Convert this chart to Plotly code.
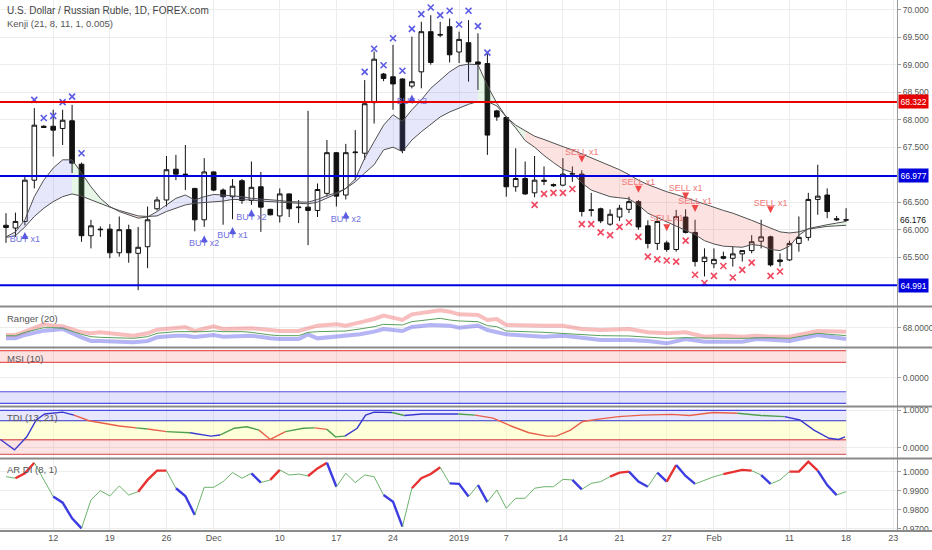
import plotly.graph_objects as go
from plotly.subplots import make_subplots

# ---- price data (daily bars, FOREX.com incl. Sunday bars), bar index 0..89
bars = list(range(90))
opens = [66.08, 66.03, 66.15, 66.90, 67.88, 67.88, 67.84, 67.98, 67.19, 65.89,
         66.01, 66.01, 65.58, 66.00, 65.57, 65.69, 66.38, 66.54, 67.10, 67.01,
         66.75, 66.18, 67.05, 66.72, 66.60, 66.89, 66.53, 66.78, 66.37, 66.25,
         66.65, 66.40, 66.41, 66.35, 66.66, 67.40, 66.63, 67.40, 67.39, 68.31,
         68.83, 68.78, 68.74, 68.61, 68.87, 69.60, 69.55, 69.69, 69.23, 69.40,
         69.05, 69.02, 68.16, 68.04, 66.78, 66.93, 66.67, 66.90, 66.82, 66.81,
         67.01, 67.01, 66.35, 66.38, 66.10, 66.23, 66.37, 66.51, 66.07, 65.75,
         65.76, 65.64, 66.23, 65.95, 65.42, 65.38, 65.51, 65.48, 65.56, 65.62,
         65.79, 65.87, 65.45, 65.45, 65.75, 65.86, 66.55, 66.63, 66.20, 66.18]
highs = [66.30, 66.31, 66.96, 68.21, 67.90, 68.18, 68.18, 68.27, 67.22, 66.18,
         66.06, 66.10, 66.24, 66.09, 66.05, 66.42, 66.60, 67.34, 67.36, 67.54,
         66.76, 67.30, 67.06, 66.75, 66.92, 66.92, 67.24, 67.05, 66.38, 66.75,
         66.66, 66.54, 68.16, 66.84, 67.63, 67.41, 67.56, 67.81, 68.72, 69.24,
         68.85, 69.36, 68.75, 69.51, 69.78, 69.90, 69.78, 69.84, 69.60, 69.81,
         69.57, 69.21, 68.18, 68.06, 67.48, 67.24, 67.34, 67.15, 66.84, 67.30,
         67.15, 67.08, 66.67, 66.40, 66.37, 66.45, 66.60, 66.54, 66.17, 66.24,
         65.80, 66.36, 66.37, 66.18, 65.66, 65.66, 65.60, 65.70, 65.63, 65.90,
         66.18, 65.89, 65.57, 65.80, 66.24, 66.67, 67.18, 66.75, 66.25, 66.39]
lows = [65.76, 65.87, 66.08, 66.75, 67.85, 67.33, 67.54, 67.03, 65.78, 65.66,
        65.87, 65.48, 65.51, 65.40, 64.90, 65.30, 66.35, 66.42, 66.90, 66.72,
        65.97, 66.05, 66.70, 66.09, 66.19, 66.47, 66.45, 65.96, 66.26, 66.13,
        66.23, 66.12, 65.72, 66.23, 66.60, 66.42, 66.55, 66.90, 67.27, 67.93,
        68.70, 68.18, 67.39, 68.57, 68.57, 69.00, 69.50, 69.04, 69.03, 68.69,
        68.54, 67.36, 67.98, 66.60, 66.69, 66.63, 66.59, 66.81, 66.78, 66.79,
        66.87, 66.24, 66.24, 66.12, 66.07, 66.16, 66.30, 66.00, 65.66, 65.63,
        65.60, 65.60, 65.93, 65.33, 65.15, 65.30, 65.46, 65.33, 65.42, 65.57,
        65.66, 65.33, 65.33, 65.43, 65.60, 65.80, 66.27, 66.21, 66.16, 66.15]
closes = [66.04, 66.15, 66.90, 67.90, 67.86, 67.81, 67.99, 67.21, 65.89, 66.07,
          66.00, 65.58, 66.00, 65.58, 65.68, 66.18, 66.54, 67.09, 67.01, 67.00,
          66.18, 67.05, 66.72, 66.60, 66.79, 66.53, 66.77, 66.41, 66.27, 66.65,
          66.38, 66.41, 66.35, 66.73, 67.40, 66.61, 67.40, 67.41, 68.29, 69.10,
          68.75, 68.65, 67.44, 68.69, 69.60, 69.04, 69.54, 69.18, 69.46, 69.05,
          69.01, 67.72, 68.05, 66.78, 66.93, 66.65, 66.90, 66.88, 66.80, 67.01,
          67.02, 66.33, 66.36, 66.16, 66.28, 66.39, 66.51, 66.05, 65.75, 66.15,
          65.64, 66.24, 65.95, 65.42, 65.50, 65.46, 65.48, 65.56, 65.62, 65.78,
          65.87, 65.36, 65.42, 65.75, 65.86, 66.55, 66.61, 66.33, 66.18, 66.176]

# Kenji cloud lines (read per bar)
kenji_fast = [65.87, 65.96, 66.18, 66.60, 66.90, 67.12, 67.27, 67.27, 67.03, 66.78,
              66.57, 66.42, 66.33, 66.27, 66.21, 66.23, 66.33, 66.45, 66.57, 66.63,
              66.54, 66.60, 66.64, 66.63, 66.62, 66.60, 66.57, 66.56, 66.54, 66.53,
              66.51, 66.50, 66.50, 66.55, 66.62, 66.67, 66.75, 66.92, 67.30, 67.60,
              67.90, 68.09, 67.97, 68.18, 68.36, 68.57, 68.72, 68.87, 68.98, 69.01,
              69.00, 68.62, 68.30, 68.05, 67.85, 67.62, 67.50, 67.35, 67.22, 67.10,
              67.04, 66.85, 66.72, 66.66, 66.60, 66.58, 66.56, 66.45, 66.30, 66.22,
              66.14, 66.06, 65.99, 65.91, 65.80, 65.74, 65.70, 65.69, 65.68, 65.73,
              65.71, 65.64, 65.62, 65.70, 65.90, 66.02, 66.06, 66.09, 66.12, 66.15]
kenji_slow = [65.86, 65.89, 66.05, 66.24, 66.39, 66.51, 66.60, 66.65, 66.61, 66.54,
              66.48, 66.41, 66.35, 66.30, 66.25, 66.24, 66.25, 66.33, 66.39, 66.45,
              66.48, 66.49, 66.50, 66.52, 66.55, 66.55, 66.54, 66.52, 66.51, 66.50,
              66.49, 66.48, 66.47, 66.50, 66.57, 66.65, 66.75, 66.87, 67.03, 67.18,
              67.45, 67.50, 67.42, 67.63, 67.78, 67.92, 68.05, 68.14, 68.21, 68.28,
              68.33, 68.33, 68.25, 68.05, 67.90, 67.80, 67.70, 67.64, 67.57, 67.51,
              67.45, 67.38, 67.30, 67.23, 67.16, 67.09, 67.00, 66.90, 66.82, 66.75,
              66.69, 66.64, 66.58, 66.52, 66.46, 66.40, 66.35, 66.30, 66.24, 66.17,
              66.10, 66.03, 65.96, 65.94, 65.96, 66.01, 66.04, 66.06, 66.07, 66.08]
cloud_start = [0, 7, 11, 15, 50, 55, 84]
cloud_end = [7, 11, 15, 50, 55, 84, 89]
cloud_state = ["up", "fade", "down", "up", "fade", "down", "fade"]

# signal markers
top_x_bars = [3, 4, 5, 6, 7, 8, 38, 39, 40, 41, 42, 43, 44, 45, 46, 47, 48, 49, 50, 51]
top_x_price = [68.36, 68.03, 68.07, 68.32, 68.42, 67.39, 68.87, 69.29, 68.99, 69.48,
               68.89, 69.65, 69.92, 70.04, 69.90, 69.98, 69.73, 69.98, 69.70, 69.22]
bot_x_bars = [56, 57, 58, 59, 60, 61, 62, 63, 64, 65, 66, 67, 68, 69, 70, 71, 72,
              73, 74, 75, 76, 77, 78, 79, 81, 82]
bot_x_price = [66.45, 66.65, 66.67, 66.67, 66.74, 66.10, 66.10, 65.95, 65.90, 66.05,
               66.13, 65.87, 65.51, 65.46, 65.44, 65.42, 65.80, 65.18, 65.03, 65.16,
               65.34, 65.13, 65.27, 65.40, 65.16, 65.24]
buy_bars = [2, 21, 24, 26, 36, 43]
buy_text = ["BUY x1", "BUY x2", "BUY x1", "BUY x2", "BUY x2", "BUY x2"]
buy_text_price = [65.81, 65.75, 65.89, 66.22, 66.18, 68.33]
buy_arrow_price = [65.96, 65.90, 66.05, 66.37, 66.33, 68.46]
sell_bars = [61, 67, 70, 72, 73, 81]
sell_text = ["SELL x1"] * 6
sell_text_price = [67.40, 66.85, 66.19, 66.74, 66.51, 66.48]
sell_arrow_price = [67.22, 66.67, 65.97, 66.55, 66.32, 66.30]

red_level = 68.322
blue_levels = [66.977, 64.991]
last_price = 66.176

# Ranger (20)
ranger_bars = [0, 1, 2, 4, 5, 6, 8, 9, 10, 12, 13.5, 15, 16, 18, 19, 20, 21, 22, 23, 25,
               26, 28, 29, 31, 32, 33, 35, 36, 37.5, 39, 40, 42, 43, 45, 46, 47, 48, 50,
               51, 52, 53, 57, 59, 61, 63, 66, 68, 70, 72, 74, 76, 78, 79.5, 81, 83, 86, 89]
ranger_upper = [66.18, 66.18, 67.01, 68.84, 68.51, 68.34, 66.84, 66.59, 66.84, 66.34,
                66.01, 66.59, 67.51, 67.93, 68.18, 67.18, 67.68, 68.34, 67.68, 67.68,
                67.84, 67.43, 67.18, 67.18, 67.84, 68.51, 68.84, 68.51, 69.34, 70.18,
                71.01, 69.93, 71.34, 71.84, 72.34, 72.01, 71.34, 71.18, 69.93, 70.18,
                68.68, 68.51, 68.51, 67.68, 67.43, 67.68, 66.84, 66.59, 66.84, 65.76,
                66.01, 65.76, 66.01, 65.76, 65.76, 67.18, 67.01]
ranger_mid = [66.01, 66.01, 66.84, 68.01, 68.01, 67.84, 66.34, 65.76, 65.59, 65.34,
              65.34, 65.76, 66.59, 67.01, 67.01, 66.84, 67.01, 67.18, 67.01, 67.01,
              66.84, 66.18, 66.01, 66.01, 66.84, 67.01, 67.01, 67.18, 67.68, 68.26,
              68.84, 68.68, 69.51, 70.18, 70.34, 69.93, 69.68, 69.51, 68.51, 68.26,
              67.18, 66.84, 66.51, 66.34, 66.01, 65.93, 65.68, 65.34, 65.51, 65.34,
              65.34, 65.34, 65.51, 65.51, 65.34, 66.59, 66.01]
ranger_lower = [65.34, 65.34, 66.18, 67.26, 67.43, 67.68, 65.59, 64.68, 64.68, 64.51,
                64.34, 64.68, 65.59, 66.01, 66.01, 65.68, 66.01, 66.18, 65.76, 65.76,
                66.01, 65.34, 65.18, 65.18, 66.34, 65.34, 65.76, 66.18, 66.34, 67.01,
                67.68, 67.18, 68.18, 68.68, 68.68, 68.51, 68.01, 68.51, 67.43, 67.01,
                66.34, 65.76, 66.01, 65.51, 64.93, 64.93, 64.68, 64.09, 65.18, 64.51,
                64.51, 64.51, 65.18, 64.93, 64.68, 66.18, 65.18]

# MSI (10) zones
msi_upper_zone = [0.57, 1.0]
msi_lower_zone = [-0.95, -0.52]

# TDI (13, 21)
tdi_levels = [1.0, 0.72, 0.21, -0.18]
tdi_bars = [-0.6, 0.9, 2.2, 3.2, 4.1, 6, 7.2, 8.8, 12, 13.8, 15, 17, 19.5, 21.7, 22.7,
            24.2, 25.5, 26.8, 28, 29.6, 31.5, 32.7, 34, 34.9, 35.9, 37.2, 38.1, 39,
            40.9, 42.2, 44.1, 47.9, 49.7, 51.6, 53.5, 55.4, 57.3, 58.3, 59.8, 61.1,
            63, 64.9, 67.4, 70.5, 72.4, 74.9, 77.5, 80, 82.5, 84.1, 85.6, 87.2, 88.2, 88.9]
tdi_values = [0.22, -0.06, 0.29, 0.74, 0.90, 0.95, 0.87, 0.72, 0.58, 0.53, 0.50, 0.43,
              0.40, 0.31, 0.34, 0.52, 0.56, 0.47, 0.22, 0.43, 0.52, 0.53, 0.49, 0.29,
              0.31, 0.52, 0.87, 0.95, 0.94, 0.86, 0.90, 0.90, 0.87, 0.79, 0.58, 0.40,
              0.31, 0.31, 0.47, 0.70, 0.77, 0.83, 0.87, 0.89, 0.86, 0.94, 0.92, 0.86,
              0.83, 0.74, 0.47, 0.25, 0.22, 0.29]
tdi_state = ("b b b b b b r r r g r g b b g g g r r g g r g g b b b b g b b g "
             "r r r r r r r r r r r r r r g g b b b b b").split()

# AR DI (8, 1)
ardi = [0.9975, 0.9967, 0.9993, 1.0049, 0.9960, 0.9870, 0.9838, 0.9755, 0.9702, 0.9852,
        0.9901, 0.9873, 0.9926, 0.9878, 0.9896, 0.9958, 1.0007, 1.0007, 0.9914, 0.9873,
        0.9773, 0.9919, 0.9919, 0.9949, 0.9997, 0.9967, 0.9993, 0.9944, 0.9958, 1.0011,
        0.9984, 0.9989, 0.9979, 1.0019, 1.0049, 0.9922, 0.9993, 0.9944, 0.9984, 0.9975,
        0.9878, 0.9843, 0.9711, 0.9914, 0.9967, 0.9989, 1.0025, 0.9940, 0.9937, 0.9870,
        0.9931, 0.9841, 0.9905, 0.9808, 0.9861, 0.9861, 0.9914, 0.9922, 0.9922, 0.9961,
        0.9958, 0.9908, 0.9940, 0.9949, 0.9976, 0.9997, 1.0002, 0.9949, 0.9922, 0.9997,
        0.9949, 1.0037, 0.9979, 0.9937, 0.9958, 0.9975, 0.9989, 1.0002, 1.0011, 1.0007,
        0.9984, 0.9937, 0.9958, 1.0002, 1.0002, 1.0055, 1.0007, 0.9931, 0.9878, 0.9896]
ardi_state = ("g r r g g b b b g g g g g g r r r g b b g g g g g g b g r g g g r r b "
              "g g g g g b b g r r r g b b g b g g g g g g g g g b g g g r r b b g b "
              "r b b g g g r r r g b g g r r r b b g").split()

week_ticks = [5, 11, 17, 22, 29, 35, 41, 48, 53, 59, 65, 70, 75, 83, 89, 94]
week_labels = ["12", "19", "26", "Dec", "10", "17", "24", "2019", "7", "14", "21",
               "27", "Feb", "11", "18", "23"]
# 65.000 and 67.000 sit under the level boxes, so the axis skips them
price_ticks = [65.5, 66.0, 66.5, 67.5, 68.0, 68.5, 69.0, 69.5, 70.0]

# ---- styles
FONT = "Liberation Sans"
GRID = "#ececec"
CLOUD_FILL = {"up": "rgba(110,110,235,0.17)", "fade": "rgba(110,210,110,0.17)",
              "down": "rgba(245,110,110,0.2)"}
TDI_COL = {"b": "#3838d0", "r": "#e8604a", "g": "#4ea04e"}
ARDI_COL = {"b": "#3c3ce0", "r": "#e83232", "g": "#5aaa5a"}
ARDI_W = {"b": 2.4, "r": 2.4, "g": 0.9}
XR = [-0.636, 94.39]
XD = [0, 0.9624]
DOMAINS = [(0.4436, 1.0), (0.3691, 0.4418), (0.2618, 0.3673), (0.1673, 0.2600), (0.0345, 0.1655)]
RANGES = [(64.612, 70.176), (63.175, 73.175), (-1.048, 1.1), (-0.276, 1.088), (0.96878, 1.00688)]

fig = make_subplots(rows=5, cols=1, shared_xaxes=True, vertical_spacing=0)


def line(x, y, color, width, row, **kw):
    fig.add_trace(go.Scatter(x=x, y=y, mode="lines", line=dict(color=color, width=width),
                             hoverinfo="skip", showlegend=False, **kw), row=row, col=1)


def runs(xs, ys, states, colors, widths, row):
    start = 0
    for i in range(1, len(states) + 1):
        if i == len(states) or states[i] != states[start]:
            s = states[start]
            line(xs[start:i + 1], ys[start:i + 1], colors[s], widths[s], row)
            start = i


# Kenji cloud
for a, b, st in zip(cloud_start, cloud_end, cloud_state):
    xs = bars[a:b + 1]
    line(xs, kenji_slow[a:b + 1], "rgba(0,0,0,0)", 0, 1)
    line(xs, kenji_fast[a:b + 1], "rgba(0,0,0,0)", 0, 1, fill="tonexty",
         fillcolor=CLOUD_FILL[st])
line(bars, kenji_slow, "#505050", 1, 1)
line(bars, kenji_fast, "#505050", 1, 1)

# signal texts (behind candles)
fig.add_trace(go.Scatter(x=buy_bars, y=buy_text_price, mode="text", text=buy_text,
                         textfont=dict(color="#7070e0", size=9, family=FONT),
                         hoverinfo="skip", showlegend=False), row=1, col=1)
fig.add_trace(go.Scatter(x=sell_bars, y=sell_text_price, mode="text", text=sell_text,
                         textfont=dict(color="#f07878", size=9, family=FONT),
                         hoverinfo="skip", showlegend=False), row=1, col=1)

fig.add_trace(go.Candlestick(
    x=bars, open=opens, high=highs, low=lows, close=closes,
    increasing=dict(line=dict(color="#111", width=1), fillcolor="white"),
    decreasing=dict(line=dict(color="#111", width=1), fillcolor="#111"),
    whiskerwidth=0, hoverinfo="skip", showlegend=False), row=1, col=1)

fig.add_trace(go.Scatter(x=buy_bars, y=buy_arrow_price, mode="markers",
                         marker=dict(symbol="arrow-up", size=7, color="#5a5ae0"),
                         hoverinfo="skip", showlegend=False), row=1, col=1)
fig.add_trace(go.Scatter(x=sell_bars, y=sell_arrow_price, mode="markers",
                         marker=dict(symbol="arrow-down", size=7, color="#f04848"),
                         hoverinfo="skip", showlegend=False), row=1, col=1)
fig.add_trace(go.Scatter(x=top_x_bars, y=top_x_price, mode="markers",
                         marker=dict(symbol="x-thin", size=6, line=dict(color="#5a5ae6", width=1.6)),
                         hoverinfo="skip", showlegend=False), row=1, col=1)
fig.add_trace(go.Scatter(x=bot_x_bars, y=bot_x_price, mode="markers",
                         marker=dict(symbol="x-thin", size=6, line=dict(color="#f04860", width=1.6)),
                         hoverinfo="skip", showlegend=False), row=1, col=1)

fig.add_hline(y=red_level, line=dict(color="#e60000", width=2), row=1, col=1)
for lv in blue_levels:
    fig.add_hline(y=lv, line=dict(color="#0000dd", width=2), row=1, col=1)

# Ranger
line(ranger_bars, ranger_upper, "rgba(240,110,110,0.45)", 4, 2)
line(ranger_bars, ranger_lower, "rgba(90,90,235,0.45)", 4, 2)
line(ranger_bars, ranger_mid, "#5aa05a", 1, 2)

# MSI zones
band_x = [-1, 89]
for zone, fc, lc in [(msi_upper_zone, "rgba(245,120,120,0.22)", "#e85a5a"),
                     (msi_lower_zone, "rgba(110,110,240,0.2)", "#5050e0")]:
    line(band_x, [zone[0]] * 2, lc, 1.2, 3)
    line(band_x, [zone[1]] * 2, lc, 1.2, 3, fill="tonexty", fillcolor=fc)

# TDI zones + line
line(band_x, [tdi_levels[1]] * 2, "#4a4ae0", 1.5, 4)
line(band_x, [tdi_levels[0]] * 2, "#4a4ae0", 1.2, 4, fill="tonexty",
     fillcolor="rgba(120,120,245,0.18)")
line(band_x, [tdi_levels[2]] * 2, "#e06a6a", 1.5, 4)
line(band_x, [tdi_levels[1]] * 2, "rgba(0,0,0,0)", 0, 4, fill="tonexty",
     fillcolor="rgba(255,255,170,0.45)")
line(band_x, [tdi_levels[3]] * 2, "#e06a6a", 1.2, 4)
line(band_x, [tdi_levels[2]] * 2, "rgba(0,0,0,0)", 0, 4, fill="tonexty",
     fillcolor="rgba(245,130,130,0.22)")
runs(tdi_bars, tdi_values, tdi_state, TDI_COL, {"b": 1.4, "r": 1.4, "g": 1.4}, 4)

# AR DI
runs(bars, ardi, ardi_state, ARDI_COL, ARDI_W, 5)

# ---- layout
fig.update_layout(width=932, height=550, margin=dict(l=0, r=0, t=0, b=0),
                  paper_bgcolor="white", plot_bgcolor="white", showlegend=False,
                  hovermode=False, font=dict(family=FONT, size=9, color="#555"))
for i in range(1, 6):
    fig.update_xaxes(row=i, col=1, range=XR, domain=XD, tickvals=week_ticks, ticktext=week_labels,
                     showgrid=True, gridcolor=GRID, zeroline=False, showline=False,
                     rangeslider_visible=False, automargin=False,
                     showticklabels=(i == 5), ticks="", tickfont=dict(size=9, color="#555"))
ytick_cfg = [
    dict(tickvals=price_ticks, tickformat=".3f"),
    dict(tickvals=[68.0], tickformat=".4f"),
    dict(tickvals=[0.0], tickformat=".4f"),
    dict(tickvals=[0.0, 1.0], tickformat=".4f"),
    dict(tickvals=[0.97, 0.98, 0.99, 1.0], tickformat=".4f"),
]
for i in range(1, 6):
    fig.update_yaxes(row=i, col=1, domain=DOMAINS[i - 1], range=RANGES[i - 1], side="right",
                     showgrid=True, gridcolor=GRID, zeroline=False, showline=True,
                     linecolor="#9a9a9a", linewidth=1, ticks="outside", ticklen=3,
                     tickcolor="#9a9a9a", automargin=False, tickfont=dict(size=8.5, color="#555"),
                     **ytick_cfg[i - 1])

# price boxes on the axis
for val, bg in [(red_level, "#e60000"), (blue_levels[0], "#0000dd"), (blue_levels[1], "#0000dd")]:
    fig.add_annotation(xref="paper", x=0.9635, xanchor="left", yref="y", y=val,
                       text=f"{val:.3f}", showarrow=False, bgcolor=bg, borderpad=1.5,
                       font=dict(color="white", size=8.5, family=FONT))
fig.add_annotation(xref="paper", x=0.9635, xanchor="left", yref="y", y=last_price,
                   text=f"{last_price:.3f}", showarrow=False, bgcolor="white", borderpad=1,
                   font=dict(color="#111", size=8.5, family=FONT))

# titles
for txt, yp, sz, col in [("U.S. Dollar / Russian Ruble, 1D, FOREX.com", 0.981, 10, "#444"),
                         ("Kenji (21, 8, 11, 1, 0.005)", 0.958, 9.5, "#555"),
                         ("Ranger (20)", 0.4215, 9.5, "#555"),
                         ("MSI (10)", 0.349, 9.5, "#555"),
                         ("TDI (13, 21)", 0.2418, 9.5, "#555"),
                         ("AR DI (8, 1)", 0.1455, 9.5, "#555")]:
    fig.add_annotation(xref="paper", yref="paper", x=0.005, y=yp, xanchor="left",
                       yanchor="middle", text=txt, showarrow=False,
                       font=dict(size=sz, color=col, family=FONT))

# panel separators
for yp in [0.4427, 0.3682, 0.2609, 0.1664, 0.0345]:
    fig.add_shape(type="line", xref="paper", yref="paper", x0=0, x1=1, y0=yp, y1=yp,
                  line=dict(color="#8a8a8a", width=2))

# page body has a default 8px margin; drop it so the 932x550 figure fills the window
fig.write_html("out.html", config={"displayModeBar": False},
               post_script="document.body.style.margin='0px';")
